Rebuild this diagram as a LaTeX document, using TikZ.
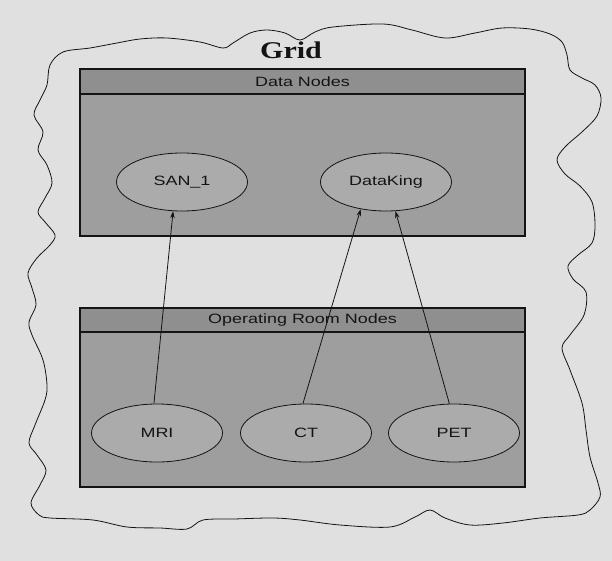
\documentclass[tikz,border=0pt]{standalone}
\usepackage{fontspec}
\usepackage{graphicx}
\setmainfont{Liberation Serif}
\setsansfont{Liberation Sans}
\usetikzlibrary{shapes.geometric,arrows.meta}
\definecolor{bgc}{gray}{0.88}
\definecolor{boxc}{gray}{0.62}
\definecolor{headc}{gray}{0.56}
\definecolor{ellc}{gray}{0.67}
\definecolor{inkc}{gray}{0.08}
\newcommand{\lbl}[1]{\scalebox{1.33}[1]{#1}}
\tikzset{
  grpbox/.style={draw=inkc, line width=1.2pt, fill=boxc, rectangle, inner sep=0pt},
  grphead/.style={draw=inkc, line width=1.2pt, fill=headc, rectangle, inner sep=0pt,
    font=\sffamily\fontsize{13.5}{15}\selectfont, text=inkc},
  devnode/.style={draw=inkc, line width=0.8pt, fill=ellc, ellipse, inner sep=0pt,
    minimum width=131pt, minimum height=58pt, font=\sffamily\fontsize{13.5}{15}\selectfont, text=inkc},
  link/.style={draw=inkc, line width=0.8pt, -{Stealth[length=7pt,width=4.5pt]}},
  cloudline/.style={draw=inkc, line width=0.8pt}
}
\begin{document}
\begin{tikzpicture}[x=1pt,y=-1pt]
\fill[bgc] (0,0) rectangle (612,561);
\useasboundingbox (0,0) rectangle (612,561);
% cloud outline
\draw[cloudline] plot[smooth cycle, tension=0.55] coordinates {
 (63,52) (90,48) (117,43) (140,39) (167,38) (200,42) (223,48) (233,43) (250,33) (267,30)
 (285,33) (300,40) (315,32) (333,27) (383,24) (412,30) (445,38) (475,33) (502,28) (530,29)
 (550,34) (562,42) (567,55) (570,70) (582,78) (595,85) (601,98) (597,116) (583,131)
 (565,147) (557,160) (565,174) (580,186) (592,202) (595,225) (592,243) (578,255)
 (568,266) (573,279) (586,292) (584,315) (570,335) (562,348) (570,370) (582,403)
 (586,430) (590,457) (598,483) (600,497) (590,510) (578,515) (540,518) (503,523)
 (470,525) (445,518) (430,510) (415,517) (390,527) (340,525) (300,520) (273,518)
 (234,519) (203,520) (187,529) (160,528) (127,527) (93,520) (50,518) (39,515)
 (31,503) (40,485) (46,470) (37,455) (29,443) (35,425) (45,400) (47,385) (43,360)
 (32,335) (29,322) (36,305) (32,288) (28,273) (37,258) (50,245) (55,235) (45,222)
 (38,212) (45,198) (52,183) (47,165) (38,150) (43,132) (34,115) (40,100) (47,85) (50,65)
};
% title
\node[font=\bfseries\fontsize{24}{26}\selectfont, text=inkc, inner sep=0pt] (title) at (291,50) {\scalebox{1.25}[1]{Grid}};
% data nodes group
\node[grpbox, minimum width=445pt, minimum height=167pt] (dbox) at (302.5,152.5) {};
\node[grphead, minimum width=445pt, minimum height=25pt, anchor=north] (dhead) at (dbox.north) {\lbl{Data Nodes}};
% operating room group
\node[grpbox, minimum width=445pt, minimum height=179pt] (obox) at (302.5,397.5) {};
\node[grphead, minimum width=445pt, minimum height=24pt, anchor=north] (ohead) at (obox.north) {\lbl{Operating Room Nodes}};
% ellipses
\node[devnode] (san) at (182,182) {\lbl{SAN\_1}};
\node[devnode] (dk) at (386,182) {\lbl{DataKing}};
\node[devnode] (mri) at (157,433) {\lbl{MRI}};
\node[devnode] (ct) at (306,433) {\lbl{CT}};
\node[devnode] (pet) at (454,433) {\lbl{PET}};
% links
\draw[link] (mri.96) -- (san.253);
\draw[link] (ct.96) -- (dk.227);
\draw[link] (pet.99) -- (dk.288);
\end{tikzpicture}
\end{document}
